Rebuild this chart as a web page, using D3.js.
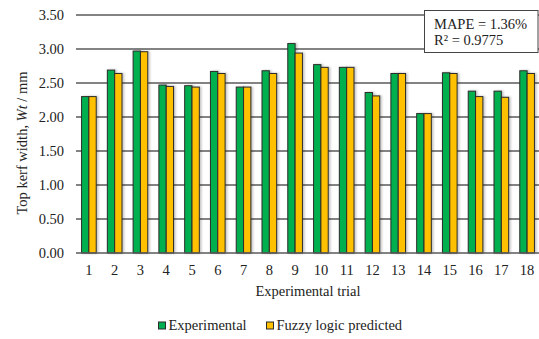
<!DOCTYPE html>
<html>
<head>
<meta charset="utf-8">
<script src="https://cdn.jsdelivr.net/npm/d3@7"></script>
<style>
  html, body { margin: 0; padding: 0; background: #fff; }
  svg text { font-family: "Liberation Serif", "Times New Roman", Times, "DejaVu Serif", serif; fill: #222; }
</style>
</head>
<body>
<svg id="chart" width="539" height="339"></svg>
<script>
// Top kerf width per experimental trial: measured vs. fuzzy logic prediction
const trials = ["1","2","3","4","5","6","7","8","9","10","11","12","13","14","15","16","17","18"];
const experimental = [2.30, 2.69, 2.97, 2.47, 2.46, 2.67, 2.44, 2.68, 3.08, 2.77, 2.73, 2.36, 2.64, 2.05, 2.65, 2.38, 2.38, 2.68];
const fuzzyPredicted = [2.30, 2.64, 2.96, 2.45, 2.44, 2.64, 2.44, 2.64, 2.94, 2.73, 2.73, 2.31, 2.64, 2.05, 2.64, 2.30, 2.29, 2.64];
const seriesNames = ["Experimental", "Fuzzy logic predicted"];
const seriesColors = ["#00B050", "#FFC000"];
const yTicks = [0, 0.5, 1.0, 1.5, 2.0, 2.5, 3.0, 3.5];
const statsLines = ["MAPE = 1.36%", "R\u00B2 = 0.9775"];

const FS = 14.5;
const svg = d3.select("#chart");
const margin = { left: 76, right: 0, top: 15, bottom: 86 };
const W = 539, H = 339;

const x = d3.scaleBand().domain(trials).range([margin.left, 540]).paddingInner(0).paddingOuter(0);
const x1 = d3.scaleBand().domain(seriesNames).range([0, x.bandwidth()]).paddingInner(0).paddingOuter(0.76);
const y = d3.scaleLinear().domain([0, 3.5]).range([H - margin.bottom, margin.top]);

// Soft shadow beside the bars
const defs = svg.append("defs");
const f = defs.append("filter").attr("id", "shadow").attr("x", "-50%").attr("y", "-10%").attr("width", "200%").attr("height", "130%");
f.append("feDropShadow").attr("dx", 1.5).attr("dy", 0).attr("stdDeviation", 1.2).attr("flood-color", "#000").attr("flood-opacity", 0.25);

// Horizontal gridlines
svg.append("g")
  .selectAll("line")
  .data(yTicks.filter(d => d > 0))
  .join("line")
  .attr("x1", margin.left).attr("x2", W)
  .attr("y1", d => y(d)).attr("y2", d => y(d))
  .attr("stroke", "#5a5a5a").attr("stroke-width", 1.4);

// Y tick labels
const yAxis = d3.axisLeft(y).tickValues(yTicks).tickFormat(d3.format(".2f")).tickSize(0).tickPadding(12);
const gy = svg.append("g").attr("transform", `translate(${margin.left},0)`).call(yAxis);
gy.attr("font-family", null).attr("font-size", null);
gy.select(".domain").remove();
gy.selectAll("text").attr("font-size", FS);

// Bars
const data = trials.map((t, i) => ({ trial: t, values: [experimental[i], fuzzyPredicted[i]] }));
const groups = svg.append("g")
  .selectAll("g")
  .data(data)
  .join("g")
  .attr("transform", d => `translate(${x(d.trial)},0)`);
groups.selectAll("rect")
  .data(d => d.values.map((v, k) => ({ name: seriesNames[k], v, k })))
  .join("rect")
  .attr("x", d => x1(d.name))
  .attr("width", x1.bandwidth())
  .attr("y", d => y(d.v))
  .attr("height", d => y(0) - y(d.v))
  .attr("fill", d => seriesColors[d.k])
  .attr("stroke", "#2b2b2b").attr("stroke-width", 1)
  .attr("filter", "url(#shadow)");

// X axis baseline and labels
svg.append("line")
  .attr("x1", margin.left).attr("x2", W)
  .attr("y1", y(0)).attr("y2", y(0))
  .attr("stroke", "#5a5a5a").attr("stroke-width", 1.6);
const xAxis = d3.axisBottom(x).tickSize(0).tickPadding(12);
const gx = svg.append("g").attr("transform", `translate(0,${y(0)})`).call(xAxis);
gx.attr("font-family", null).attr("font-size", null);
gx.select(".domain").remove();
gx.selectAll("text").attr("font-size", FS);

// Axis titles
svg.append("text")
  .attr("x", 308).attr("y", 296)
  .attr("text-anchor", "middle").attr("font-size", FS)
  .text("Experimental trial");

const yt = svg.append("text")
  .attr("transform", "translate(27,143) rotate(-90)")
  .attr("text-anchor", "middle").attr("font-size", FS);
yt.append("tspan").text("Top kerf width, ");
yt.append("tspan").attr("font-style", "italic").text("Wt");
yt.append("tspan").text(" / mm");

// Statistics box
const box = svg.append("g");
box.append("rect")
  .attr("x", 424.5).attr("y", 10.5).attr("width", 113.5).attr("height", 42)
  .attr("fill", "#fff").attr("stroke", "#444").attr("stroke-width", 1);
box.selectAll("text")
  .data(statsLines)
  .join("text")
  .attr("x", 434).attr("y", (d, i) => 28.5 + i * 16.5)
  .attr("font-size", FS)
  .text(d => d);

// Legend
const legendX = [158, 266];
const lg = svg.append("g");
seriesNames.forEach((name, k) => {
  lg.append("rect")
    .attr("x", legendX[k] + 0.5).attr("y", 322).attr("width", 7).attr("height", 7)
    .attr("fill", seriesColors[k]).attr("stroke", "#2b2b2b").attr("stroke-width", 1);
  lg.append("text")
    .attr("x", legendX[k] + 10.5).attr("y", 330)
    .attr("font-size", FS)
    .text(name);
});
</script>
</body>
</html>
